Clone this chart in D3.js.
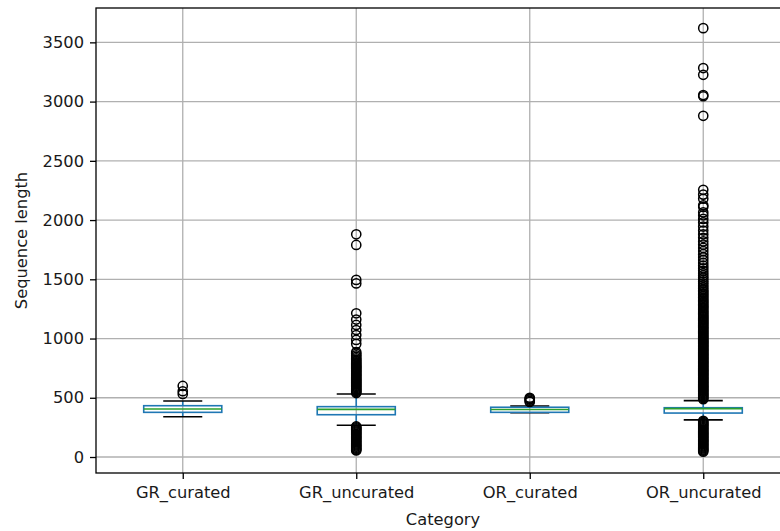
<!DOCTYPE html>
<html>
<head>
<meta charset="utf-8">
<script src="https://cdn.jsdelivr.net/npm/d3@7"></script>
<style>
  body { margin: 0; background: #fff; }
  svg { display: block; font-family: "DejaVu Sans", sans-serif; }
</style>
</head>
<body>
<div id="chart"></div>
<script>
// box statistics
const categories = ["GR_curated", "GR_uncurated", "OR_curated", "OR_uncurated"];
const q1 = [377, 357, 377, 371];
const medians = [405, 402, 401, 408];
const q3 = [433, 425, 420, 416];
const whiskerLow = [340, 268, 374, 313];
const whiskerHigh = [473, 532, 431, 476];
const yTicks = [0, 500, 1000, 1500, 2000, 2500, 3000, 3500];

// outliers (the solid black runs hold very many points, estimated here)
const fliersGRcurated = [600, 555, 532];
const fliersGRuncurated = [1880, 1790, 1495, 1465, 1213, 1160, 1115, 1072, 1030, 988, 955,
  886, 872, 858, 845, 832, 820, 810, 800, 790, 780, 771, 762, 753, 744, 735, 726, 717,
  708, 699, 690, 681, 672, 663, 654, 645, 636, 628, 619, 610, 601, 592, 583, 575, 566,
  557, 548, 540,
  258, 250, 241, 232, 223, 214, 205, 196, 187, 178, 169, 160, 151, 142, 133, 124, 115,
  106, 97, 88, 79, 70, 62, 55];
const fliersORcurated = [465, 475, 485, 492, 500];
const fliersORuncurated = [3620, 3283, 3226, 3055, 3045, 2880,
  2255, 2215, 2180, 2125, 2110, 2065, 2040, 2010, 1980, 1945, 1912, 1880, 1850, 1820,
  1792, 1765, 1738, 1712, 1686, 1662, 1638, 1615, 1593, 1572, 1552, 1533, 1515, 1498,
  1482, 1466, 1450, 1435, 1420, 1406, 1394, 1382, 1370, 1358, 1346, 1334, 1322, 1310,
  1299, 1288, 1277, 1266, 1255, 1244, 1233, 1222, 1211, 1200, 1190, 1180, 1170, 1160,
  1150, 1140, 1130, 1120, 1110, 1100, 1090, 1080, 1070, 1060, 1050, 1040, 1030, 1020,
  1010, 1000, 991, 982, 973, 964, 955, 946, 937, 928, 919, 910, 901, 892, 883, 874, 865,
  856, 847, 838, 829, 820, 811, 802, 793, 784, 775, 766, 757, 748, 739, 730, 721, 712,
  703, 694, 685, 676, 667, 658, 649, 640, 631, 622, 613, 604, 595, 586, 577, 568, 559,
  550, 541, 532, 523, 514, 505, 496, 488,
  306, 297, 288, 279, 270, 261, 252, 243, 234, 225, 216, 207, 198, 189, 180, 171, 162,
  153, 144, 135, 126, 117, 108, 99, 90, 81, 72, 63, 54, 45];
const fliers = [fliersGRcurated, fliersGRuncurated, fliersORcurated, fliersORuncurated];

const W = 780, H = 531;
let margin = { left: 96, right: 790, top: 8, bottom: 473 };

const svg = d3.select("#chart").append("svg")
    .attr("width", W).attr("height", H);

let x = d3.scalePoint()
    .domain(categories)
    .range([margin.left, margin.right])
    .padding(0.5);

let y = d3.scaleLinear()
    .domain([-135, 3790])
    .range([margin.bottom, margin.top]);

const boxW = x.step() * 0.45;

// grid
svg.append("g").selectAll("line")
    .data(yTicks).join("line")
    .attr("x1", margin.left).attr("x2", margin.right)
    .attr("y1", d => y(d)).attr("y2", d => y(d))
    .attr("stroke", "#b0b0b0").attr("stroke-width", 1.3);
svg.append("g").selectAll("line")
    .data(categories).join("line")
    .attr("x1", d => x(d)).attr("x2", d => x(d))
    .attr("y1", margin.top).attr("y2", margin.bottom)
    .attr("stroke", "#b0b0b0").attr("stroke-width", 1.3);

// boxes
const boxes = svg.append("g").selectAll("g")
    .data(categories).join("g");

// whiskers
boxes.append("line")
    .attr("x1", d => x(d)).attr("x2", d => x(d))
    .attr("y1", (d, i) => y(q3[i])).attr("y2", (d, i) => y(whiskerHigh[i]))
    .attr("stroke", "#1f77b4").attr("stroke-width", 1.6);
boxes.append("line")
    .attr("x1", d => x(d)).attr("x2", d => x(d))
    .attr("y1", (d, i) => y(q1[i])).attr("y2", (d, i) => y(whiskerLow[i]))
    .attr("stroke", "#1f77b4").attr("stroke-width", 1.6);

// caps
[whiskerHigh, whiskerLow].forEach(arr => {
    boxes.append("line")
        .attr("x1", d => x(d) - boxW / 4).attr("x2", d => x(d) + boxW / 4)
        .attr("y1", (d, i) => y(arr[i])).attr("y2", (d, i) => y(arr[i]))
        .attr("stroke", "#000").attr("stroke-width", 1.6);
});

// box
boxes.append("rect")
    .attr("x", d => x(d) - boxW / 2)
    .attr("width", boxW)
    .attr("y", (d, i) => y(q3[i]))
    .attr("height", (d, i) => y(q1[i]) - y(q3[i]))
    .attr("fill", "none")
    .attr("stroke", "#1f77b4").attr("stroke-width", 1.6);

// median
boxes.append("line")
    .attr("x1", d => x(d) - boxW / 2).attr("x2", d => x(d) + boxW / 2)
    .attr("y1", (d, i) => y(medians[i])).attr("y2", (d, i) => y(medians[i]))
    .attr("stroke", "#2ca02c").attr("stroke-width", 1.6);

// fliers
boxes.each(function(d, i) {
    d3.select(this).selectAll("circle")
        .data(fliers[i]).join("circle")
        .attr("cx", x(d))
        .attr("cy", v => y(v))
        .attr("r", 4.6)
        .attr("fill", "none")
        .attr("stroke", "#000")
        .attr("stroke-width", 1.5);
});

// spines
svg.append("rect")
    .attr("x", margin.left).attr("y", margin.top)
    .attr("width", margin.right - margin.left).attr("height", margin.bottom - margin.top)
    .attr("fill", "none").attr("stroke", "#000").attr("stroke-width", 1.3);

// axes
const yAxis = svg.append("g")
    .attr("transform", "translate(" + margin.left + ",0)")
    .call(d3.axisLeft(y).tickValues(yTicks).tickSize(6).tickPadding(6).tickFormat(d3.format("d")));
const xAxis = svg.append("g")
    .attr("transform", "translate(0," + margin.bottom + ")")
    .call(d3.axisBottom(x).tickSize(6).tickPadding(7));

[yAxis, xAxis].forEach(a => {
    a.select(".domain").remove();
    a.selectAll(".tick line").attr("stroke", "#000").attr("stroke-width", 1.3);
    a.selectAll("text").attr("fill", "#1a1a1a")
        .style("font-size", "16.3px").style("font-family", "DejaVu Sans");
});

// axis labels
svg.append("text")
    .attr("x", (margin.left + margin.right) / 2).attr("y", 525)
    .attr("text-anchor", "middle")
    .attr("fill", "#1a1a1a")
    .style("font-size", "16.3px")
    .text("Category");
svg.append("text")
    .attr("transform", "translate(27," + ((margin.top + margin.bottom) / 2) + ") rotate(-90)")
    .attr("text-anchor", "middle")
    .attr("fill", "#1a1a1a")
    .style("font-size", "16.3px")
    .text("Sequence length");
</script>
</body>
</html>
